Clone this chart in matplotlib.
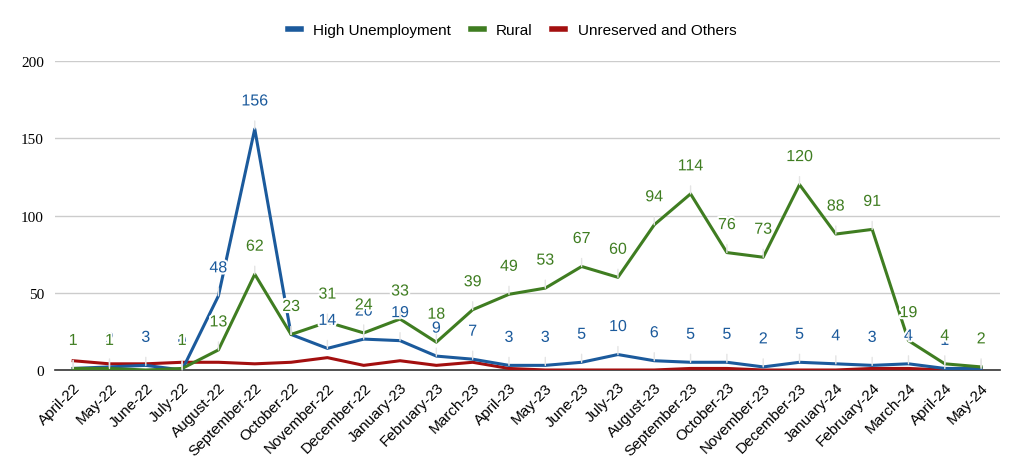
import matplotlib
matplotlib.use('Agg')
import matplotlib.pyplot as plt
import matplotlib.patheffects as pe

# 月份
months = ['April-22', 'May-22', 'June-22', 'July-22', 'August-22', 'September-22',
          'October-22', 'November-22', 'December-22', 'January-23', 'February-23',
          'March-23', 'April-23', 'May-23', 'June-23', 'July-23', 'August-23',
          'September-23', 'October-23', 'November-23', 'December-23', 'January-24',
          'February-24', 'March-24', 'April-24', 'May-24']

high_unemployment = [1, 2, 3, 0, 48, 156, 23, 14, 20, 19, 9, 7, 3, 3, 5, 10, 6,
                     5, 5, 2, 5, 4, 3, 4, 1, 1]
rural = [1, 1, 0, 1, 13, 62, 23, 31, 24, 33, 18, 39, 49, 53, 67, 60, 94,
         114, 76, 73, 120, 88, 91, 19, 4, 2]
unreserved = [6, 4, 4, 5, 5, 4, 5, 8, 3, 6, 3, 5, 1, 0, 0, 0, 0,
              1, 1, 0, 0, 0, 1, 1, 0, 0]

c_blue = '#1b5a9c'
c_green = '#3f7d21'
c_red = '#a30f0f'

fig = plt.figure(figsize=(10.24, 4.77), dpi=100)
ax = fig.add_axes([55 / 1024, 1 - 371 / 477, 945 / 1024, 309 / 477])

x = list(range(len(months)))
ax.plot(x, high_unemployment, color=c_blue, lw=2.2, label='High Unemployment', zorder=4)
ax.plot(x, rural, color=c_green, lw=2.2, label='Rural', zorder=5)
ax.plot(x, unreserved, color=c_red, lw=2.2, label='Unreserved and Others', zorder=3)

# 数据标签 (rural 的 0 不标)
halo = [pe.withStroke(linewidth=3, foreground='white')]
for series, col, z, skip0 in [(high_unemployment, c_blue, 6, False), (rural, c_green, 7, True)]:
    for xi, v in zip(x, series):
        if skip0 and v == 0:
            continue
        ax.annotate(str(v), xy=(xi, v), xytext=(0, 28), textcoords='offset pixels',
                    ha='center', va='center', fontsize=11.5, color=col,
                    family='Liberation Sans', path_effects=halo, zorder=z,
                    arrowprops=dict(arrowstyle='-', color='#e4e4e4', lw=1,
                                    shrinkA=7, shrinkB=0))

ax.set_xlim(-0.5, 25.52)
ax.set_ylim(0, 200)
ax.set_yticks([0, 50, 100, 150, 200])
ax.set_xticks(x)
ax.set_xticklabels(months, rotation=45, ha='right', rotation_mode='anchor',
                   family='Liberation Sans', fontsize=11)
for lab in ax.get_yticklabels():
    lab.set_family('Liberation Serif')
    lab.set_fontsize(11)
ax.tick_params(length=0, pad=8)
ax.tick_params(axis='x', pad=7)
ax.grid(axis='y', color='#cccccc', lw=1)
ax.set_axisbelow(True)
for s in ['top', 'right', 'left']:
    ax.spines[s].set_visible(False)
ax.spines['bottom'].set_color('#333333')
ax.spines['bottom'].set_linewidth(1.2)

fig.legend(loc='center', bbox_to_anchor=(0.5, 1 - 31 / 477), ncol=3, frameon=False,
           prop={'family': 'Liberation Sans', 'size': 11}, handlelength=0.85,
           handletextpad=0.8, columnspacing=1.3)
for h in fig.legends[0].get_lines():
    h.set_linewidth(4)

fig.savefig('out.png', dpi=100)
